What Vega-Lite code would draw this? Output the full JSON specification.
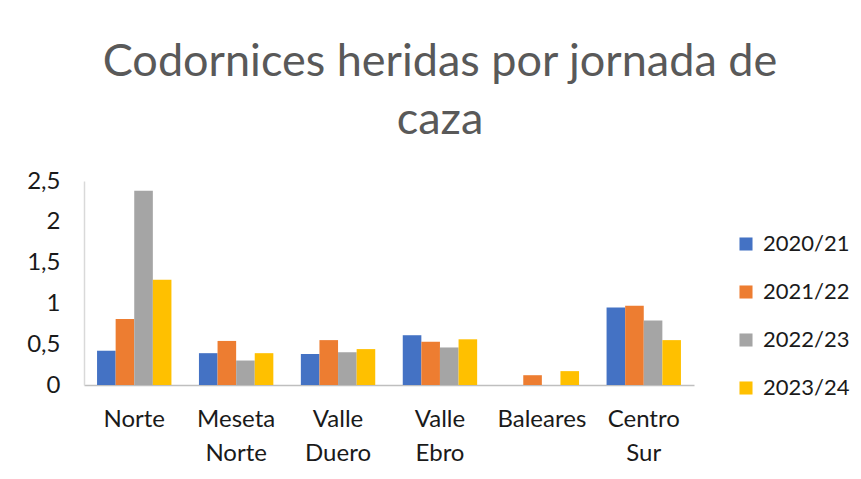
{
  "$schema": "https://vega.github.io/schema/vega-lite/v6.json",
  "width": 610,
  "height": 204,
  "autosize": {"type": "none"},
  "padding": {"left": 84, "top": 181, "right": 167, "bottom": 94},
  "background": "white",
  "title": {
    "text": ["Codornices heridas por jornada de", "caza"],
    "fontSize": 45,
    "font": "Lato",
    "fontWeight": "normal",
    "color": "#595959",
    "anchor": "middle",
    "dx": 51,
    "lineHeight": 58,
    "offset": 26
  },
  "data": {
    "values": [
      {"region": "Norte", "season": "2020/21", "value": 0.42},
      {"region": "Norte", "season": "2021/22", "value": 0.81},
      {"region": "Norte", "season": "2022/23", "value": 2.38},
      {"region": "Norte", "season": "2023/24", "value": 1.29},
      {"region": "Meseta Norte", "season": "2020/21", "value": 0.39},
      {"region": "Meseta Norte", "season": "2021/22", "value": 0.54},
      {"region": "Meseta Norte", "season": "2022/23", "value": 0.30},
      {"region": "Meseta Norte", "season": "2023/24", "value": 0.39},
      {"region": "Valle Duero", "season": "2020/21", "value": 0.38},
      {"region": "Valle Duero", "season": "2021/22", "value": 0.55},
      {"region": "Valle Duero", "season": "2022/23", "value": 0.40},
      {"region": "Valle Duero", "season": "2023/24", "value": 0.44},
      {"region": "Valle Ebro", "season": "2020/21", "value": 0.61},
      {"region": "Valle Ebro", "season": "2021/22", "value": 0.53},
      {"region": "Valle Ebro", "season": "2022/23", "value": 0.46},
      {"region": "Valle Ebro", "season": "2023/24", "value": 0.56},
      {"region": "Baleares", "season": "2021/22", "value": 0.12},
      {"region": "Baleares", "season": "2023/24", "value": 0.17},
      {"region": "Centro Sur", "season": "2020/21", "value": 0.95},
      {"region": "Centro Sur", "season": "2021/22", "value": 0.97},
      {"region": "Centro Sur", "season": "2022/23", "value": 0.79},
      {"region": "Centro Sur", "season": "2023/24", "value": 0.55}
    ]
  },
  "mark": {"type": "bar"},
  "encoding": {
    "x": {
      "field": "region",
      "type": "nominal",
      "sort": ["Norte", "Meseta Norte", "Valle Duero", "Valle Ebro", "Baleares", "Centro Sur"],
      "scale": {"paddingInner": 0.27, "paddingOuter": 0.128},
      "axis": {
        "title": null,
        "labelAngle": 0,
        "labelExpr": "split(datum.label, ' ')",
        "labelFontSize": 24,
        "labelFont": "Lato",
        "labelColor": "#1a1a1a",
        "labelPadding": 22,
        "labelLineHeight": 34,
        "ticks": false,
        "domainColor": "#bfbfbf",
        "domainWidth": 1.5
      }
    },
    "xOffset": {
      "field": "season",
      "type": "nominal",
      "sort": ["2020/21", "2021/22", "2022/23", "2023/24"],
      "scale": {"paddingInner": 0}
    },
    "y": {
      "field": "value",
      "type": "quantitative",
      "scale": {"domain": [0, 2.5]},
      "axis": {
        "title": null,
        "values": [0, 0.5, 1, 1.5, 2, 2.5],
        "labelExpr": "replace(format(datum.value, '~g'), '.', ',')",
        "labelFontSize": 24,
        "labelFont": "Lato",
        "labelColor": "#1a1a1a",
        "labelPadding": 24,
        "ticks": false,
        "grid": false,
        "domainColor": "#d9d9d9",
        "domainWidth": 1.5
      }
    },
    "color": {
      "field": "season",
      "type": "nominal",
      "scale": {
        "domain": ["2020/21", "2021/22", "2022/23", "2023/24"],
        "range": ["#4472C4", "#ED7D31", "#A5A5A5", "#FFC000"]
      },
      "legend": {
        "title": null,
        "orient": "none",
        "legendX": 651,
        "legendY": 52,
        "symbolType": "square",
        "symbolSize": 170,
        "labelFontSize": 22,
        "labelFont": "Lato",
        "labelColor": "#1a1a1a",
        "rowPadding": 26,
        "labelOffset": 6
      }
    }
  },
  "config": {"view": {"stroke": null}}
}
